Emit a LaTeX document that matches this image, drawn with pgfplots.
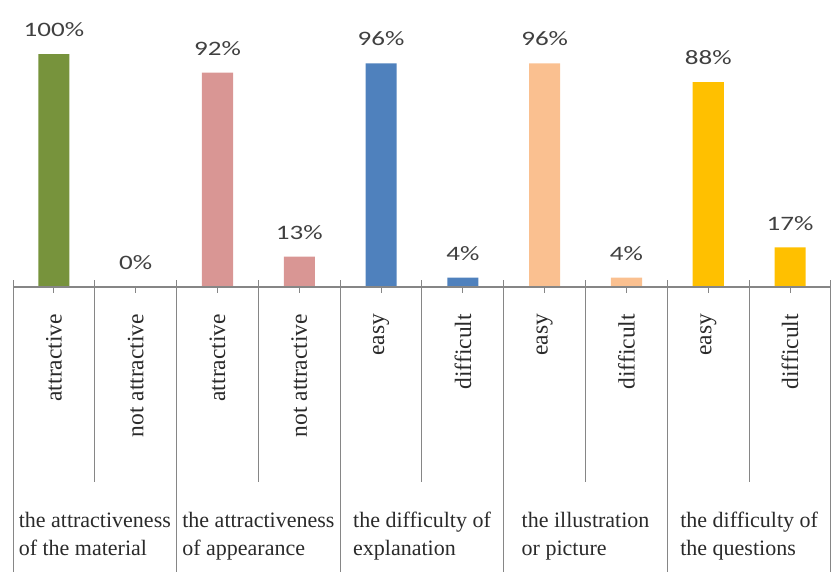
\documentclass[border=0pt]{standalone}
\usepackage{pgfplots}
\pgfplotsset{compat=1.18}
\usepackage{fontspec}
\setmainfont{Liberation Serif}
\newfontfamily\labfont[FakeStretch=1.32]{Carlito}
\definecolor{cgreen}{HTML}{77933C}
\definecolor{cpink}{HTML}{D99694}
\definecolor{cblue}{HTML}{4F81BD}
\definecolor{cpeach}{HTML}{FAC090}
\definecolor{cgold}{HTML}{FFC000}
\definecolor{axgray}{HTML}{868686}
\definecolor{txt}{HTML}{404040}
\definecolor{txtb}{HTML}{2A2A2A}
\begin{document}
\begin{tikzpicture}
\begin{axis}[
  scale only axis, width=818pt, height=572pt,
  xmin=0, xmax=10, ymin=-122.3, ymax=123.2,
  hide axis, clip=false,
  /pgf/number format/assume math mode=true,
  mybar/.style={ybar, bar width=0.38, bar shift=0pt, draw=none, fill=#1,
    nodes near coords={\pgfmathprintnumber{\pgfplotspointmeta}\%},
    nodes near coords style={font=\labfont\fontsize{20.5}{23}\selectfont, text=txt, anchor=south, inner sep=0pt, yshift=17pt}},
]
\addplot[mybar=cgreen] coordinates {(0.5,100) (1.5,0)};
\addplot[mybar=cpink]  coordinates {(2.5,92) (3.5,13)};
\addplot[mybar=cblue]  coordinates {(4.5,96) (5.5,4)};
\addplot[mybar=cpeach] coordinates {(6.5,96) (7.5,4)};
\addplot[mybar=cgold]  coordinates {(8.5,88) (9.5,17)};

\draw[axgray, line width=1.2pt] (axis cs:0,0) -- (axis cs:10,0);
\pgfplotsinvokeforeach{0,1,2,3,4,5,6,7,8,9,10}{
  \draw[axgray, line width=1pt] (axis cs:#1,0) -- (axis cs:#1,3);
}
\pgfplotsinvokeforeach{0.5,1.5,2.5,3.5,4.5,5.5,6.5,7.5,8.5,9.5}{
  \draw[axgray, line width=1pt] (axis cs:#1,0) -- (axis cs:#1,-2.6);
}
\pgfplotsinvokeforeach{1,3,5,7,9}{
  \draw[axgray, line width=1pt] (axis cs:#1,0) -- (axis cs:#1,-83.7);
}
\pgfplotsinvokeforeach{0,2,4,6,8,10}{
  \draw[axgray, line width=1pt] (axis cs:#1,0) -- (axis cs:#1,-122.3);
}

\tikzset{rl/.style={rotate=90, anchor=east, inner sep=0pt, font=\fontsize{23.5}{26}\selectfont, text=txtb},
         gl/.style={anchor=north, align=left, inner sep=0pt, font=\fontsize{22}{28}\selectfont, text=txtb}}
\node[rl] at (axis cs:0.5,-11.5) {attractive};
\node[rl] at (axis cs:1.5,-11.5) {not attractive};
\node[rl] at (axis cs:2.5,-11.5) {attractive};
\node[rl] at (axis cs:3.5,-11.5) {not attractive};
\node[rl] at (axis cs:4.5,-11.5) {easy};
\node[rl] at (axis cs:5.5,-11.5) {difficult};
\node[rl] at (axis cs:6.5,-11.5) {easy};
\node[rl] at (axis cs:7.5,-11.5) {difficult};
\node[rl] at (axis cs:8.5,-11.5) {easy};
\node[rl] at (axis cs:9.5,-11.5) {difficult};

\node[gl] at (axis cs:1,-96.6) {the attractiveness\\of the material};
\node[gl] at (axis cs:3,-96.6) {the attractiveness\\of appearance};
\node[gl] at (axis cs:5,-96.6) {the difficulty of\\explanation};
\node[gl] at (axis cs:7,-96.6) {the illustration\\or picture};
\node[gl] at (axis cs:9,-96.6) {the difficulty of\\the questions};

\path (axis cs:-0.159,-122.3) rectangle (axis cs:10.037,123.2);
\end{axis}
\end{tikzpicture}
\end{document}
